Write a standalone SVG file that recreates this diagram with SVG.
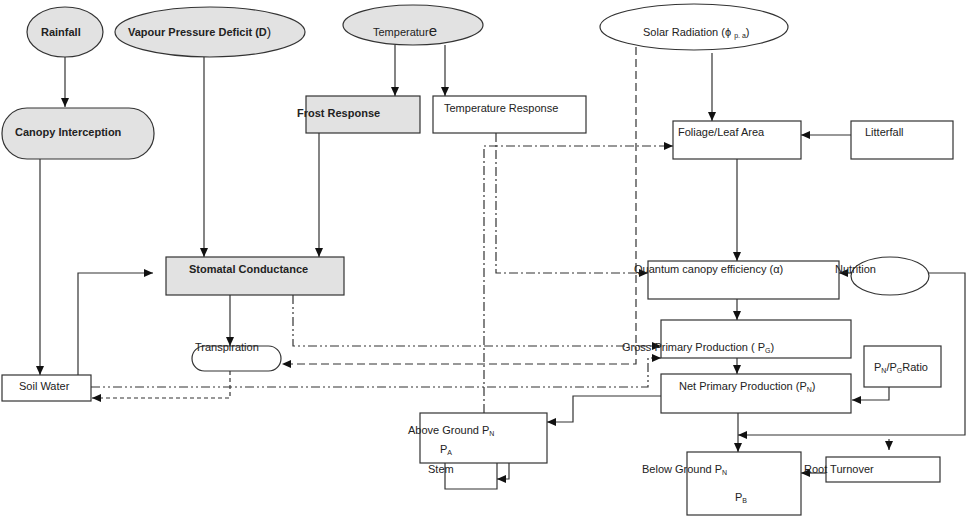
<svg xmlns="http://www.w3.org/2000/svg" width="979" height="522" viewBox="0 0 979 522">
<style>
text{font-family:"Liberation Sans",Arial,sans-serif;font-size:11px;fill:#222}
.b{font-weight:bold}
.g{fill:#e2e2e2;stroke:#333;stroke-width:1.2}
.w{fill:#fff;stroke:#333;stroke-width:1.2}
.c{fill:none;stroke:#333;stroke-width:1.2}
.dd{stroke-dasharray:9 3 2 3}
.d2{stroke-dasharray:9 3 2 3 2 3}
.ds{stroke-dasharray:8 4}
.sd{stroke-dasharray:4 3}
.sub{font-size:7px}
</style>
<defs>
<marker id="ah" markerWidth="10" markerHeight="10" refX="9" refY="5" orient="auto" markerUnits="userSpaceOnUse"><path d="M0,1 L9,5 L0,9 z" fill="#111"/></marker>
</defs>
<rect width="979" height="522" fill="#fff"/>
<g id="connectors">
<path class="c" d="M65,57 V107" marker-end="url(#ah)"/>
<path class="c" d="M204,57 V257" marker-end="url(#ah)"/>
<path class="c" d="M395,45 V96" marker-end="url(#ah)"/>
<path class="c" d="M445,45 V96" marker-end="url(#ah)"/>
<path class="c" d="M319,133 V257" marker-end="url(#ah)"/>
<path class="c" d="M712,53 V121" marker-end="url(#ah)"/>
<path class="c" d="M851,135 H801" marker-end="url(#ah)"/>
<path class="c" d="M40,159 V375" marker-end="url(#ah)"/>
<path class="c" d="M78,375 V273 H153" marker-end="url(#ah)"/>
<path class="c" d="M230,295 V346" marker-end="url(#ah)"/>
<path class="c" d="M737,159 V261" marker-end="url(#ah)"/>
<path class="c" d="M852,273 H839" marker-end="url(#ah)"/>
<path class="c" d="M737,299 V320" marker-end="url(#ah)"/>
<path class="c" d="M737,358 V374" marker-end="url(#ah)"/>
<path class="c" d="M889,387 V400 H852" marker-end="url(#ah)"/>
<path class="c" d="M738,413 V452" marker-end="url(#ah)"/>
<path class="c" d="M929,273 H965 V435 H738" marker-end="url(#ah)"/>
<path class="c" d="M889,439 V450" marker-end="url(#ah)"/>
<path class="c" d="M661,396 H573 V422 H547" marker-end="url(#ah)"/>
<path class="c" d="M445,463 V489 H497 V463"/>
<path class="c" d="M509,463 V479 H497" marker-end="url(#ah)"/>
<path class="c" d="M826,473 H801" marker-end="url(#ah)"/>
<path class="c ds" d="M636,47 V364 H282" marker-end="url(#ah)"/>
<path class="c sd" d="M230,371 V398 H92" marker-end="url(#ah)"/>
<path class="c dd" d="M484,413 V146 H673" marker-end="url(#ah)"/>
<path class="c dd" d="M496,133 V273 H648" marker-end="url(#ah)"/>
<path class="c d2" d="M293,295 V346 H661" marker-end="url(#ah)"/>
<path class="c d2" d="M91,387 H648 V358 H661" marker-end="url(#ah)"/>
</g>
<g id="rainfall"><ellipse class="g" cx="65" cy="32" rx="38" ry="25"/><text class="b" x="41" y="36">Rainfall</text></g>
<g id="vpd"><ellipse class="g" cx="210" cy="32" rx="95" ry="25"/><text class="b" x="128" y="36">Vapour Pressure Deficit (D<tspan font-weight="normal" font-size="13">)</tspan></text></g>
<g id="temperature"><ellipse class="g" cx="413" cy="25" rx="70" ry="20"/><text x="373" y="36">Temperatur<tspan font-size="15">e</tspan></text></g>
<g id="solar"><ellipse class="w" cx="694" cy="27" rx="94" ry="23"/><text x="643" y="36">Solar Radiation (ϕ <tspan class="sub" dy="2">p. a</tspan><tspan dy="-2">)</tspan></text></g>
<g id="canopy"><rect class="g" x="2" y="108" width="152" height="51" rx="25"/><text class="b" x="15" y="136">Canopy Interception</text></g>
<g id="frost"><rect class="g" x="306" y="96" width="114" height="37"/><text class="b" x="297" y="117">Frost Response</text></g>
<g id="tempresp"><rect class="w" x="433" y="96" width="153" height="37"/><text x="444" y="112">Temperature Response</text></g>
<g id="foliage"><rect class="w" x="673" y="121" width="128" height="38"/><text x="678" y="136">Foliage/Leaf Area</text></g>
<g id="litterfall"><rect class="w" x="851" y="121" width="102" height="38"/><text x="865" y="136">Litterfall</text></g>
<g id="stomatal"><rect class="g" x="166" y="257" width="178" height="38"/><text class="b" x="189" y="273">Stomatal Conductance</text></g>
<g id="transpiration"><rect class="w" x="192" y="346" width="89" height="25" rx="12.5"/><text x="195" y="351">Transpiration</text></g>
<g id="soilwater"><rect class="w" x="2" y="375" width="89" height="26"/><text x="19" y="390">Soil Water</text></g>
<g id="quantum"><rect class="w" x="648" y="261" width="191" height="38"/><text x="634" y="273">Quantum canopy efficiency (α)</text></g>
<g id="nutrition"><ellipse class="w" cx="890" cy="276" rx="39" ry="19"/><text x="835" y="273">Nutrition</text></g>
<g id="gpp"><rect class="w" x="661" y="320" width="190" height="38"/><text x="622" y="351">Gross Primary Production ( P<tspan class="sub" dy="2">G</tspan><tspan dy="-2">)</tspan></text></g>
<g id="npp"><rect class="w" x="661" y="374" width="190" height="39"/><text x="679" y="390">Net Primary Production (P<tspan class="sub" dy="2">N</tspan><tspan dy="-2">)</tspan></text></g>
<g id="ratio"><rect class="w" x="864" y="346" width="77" height="41"/><text x="874" y="371">P<tspan class="sub" dy="2">N</tspan><tspan dy="-2">/P</tspan><tspan class="sub" dy="2">G</tspan><tspan dy="-2">Ratio</tspan></text></g>
<g id="aboveground"><rect class="w" x="420" y="413" width="127" height="50"/><text x="408" y="434">Above Ground P<tspan class="sub" dy="2">N</tspan></text><text x="440" y="453">P<tspan class="sub" dy="2">A</tspan></text><text x="428" y="473">Stem</text></g>
<g id="belowground"><rect class="w" x="687" y="452" width="114" height="63"/><text x="642" y="473">Below Ground P<tspan class="sub" dy="2">N</tspan></text><text x="735" y="501">P<tspan class="sub" dy="2">B</tspan></text></g>
<g id="rootturnover"><rect class="w" x="826" y="457" width="114" height="25"/><text x="804" y="473">Root Turnover</text></g>
</svg>
